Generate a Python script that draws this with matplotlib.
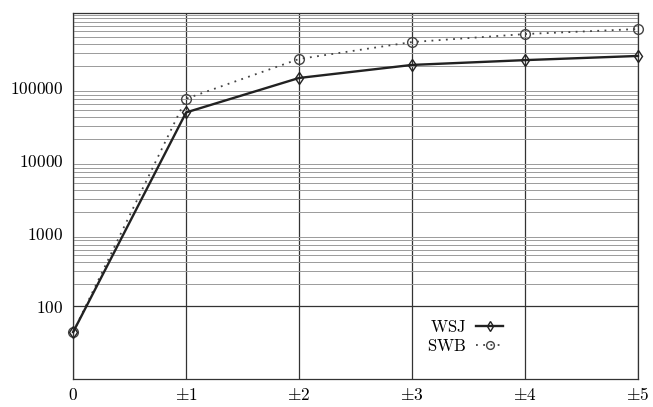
import matplotlib as mpl
mpl.use('Agg')
import matplotlib.pyplot as plt
from matplotlib.ticker import FixedLocator, NullFormatter

plt.rcParams['mathtext.fontset'] = 'cm'
plt.rcParams['font.family'] = 'DejaVu Serif'

# window sizes and counts
x_pos = [0, 1, 2, 3, 4, 5]
x_labels = ['0', r'\pm1', r'\pm2', r'\pm3', r'\pm4', r'\pm5']
wsj = [44, 46000, 137000, 207000, 241000, 275000]
swb = [44, 71000, 250000, 427000, 550000, 645000]
y_ticks = [100, 1000, 10000, 100000]

fig = plt.figure(figsize=(6.53, 4.07), dpi=100)
ax = fig.add_axes([0.112, 0.069, 0.865, 0.899])
ax.set_yscale('log')
ax.set_xlim(0, 5)
ax.set_ylim(10, 1.07e6)

# grid: light lines for every 2..9 step above 100, dark line at 100
minor = [m * 10 ** d for d in range(2, 6) for m in range(2, 10)] + [1000, 10000, 100000, 1000000]
ax.yaxis.set_minor_locator(FixedLocator(minor))
ax.yaxis.set_minor_formatter(NullFormatter())
ax.grid(True, which='minor', axis='y', color='#9a9a9a', lw=0.7)
ax.set_yticks(y_ticks)
ax.set_yticklabels(['$%d$' % v for v in y_ticks])
ax.axhline(100, color='#333333', lw=0.9, zorder=1)
ax.set_xticks(x_pos)
ax.set_xticklabels(['$%s$' % s for s in x_labels])
ax.grid(True, which='major', axis='x', color='#333333', lw=0.9)
ax.tick_params(which='both', length=0, labelsize=12.5)
ax.tick_params(axis='y', pad=7)
ax.tick_params(axis='x', pad=6)
for s in ax.spines.values():
    s.set_color('#333333')
    s.set_linewidth(0.9)

ax.plot(x_pos, wsj, color='#222222', lw=1.7, marker='d', ms=6,
        mfc='none', mec='#222222', mew=1.0, label='WSJ', clip_on=False, zorder=4)
ax.plot(x_pos, swb, color='#444444', lw=1.3, ls=(0, (1, 3)), marker='o', ms=7,
        mfc='none', mec='#444444', mew=1.0, label='SWB', clip_on=False, zorder=3)

leg = ax.legend(loc='lower left', bbox_to_anchor=(0.6, 0.025), frameon=False,
                markerfirst=False, handlelength=1.6, handletextpad=0.6,
                labelspacing=0.1, markerscale=0.8,
                prop={'family': 'DejaVu Serif', 'size': 12})
for t in leg.get_texts():
    t.set_text('$\\mathrm{%s}$' % t.get_text())

fig.savefig('out.png', dpi=100)
